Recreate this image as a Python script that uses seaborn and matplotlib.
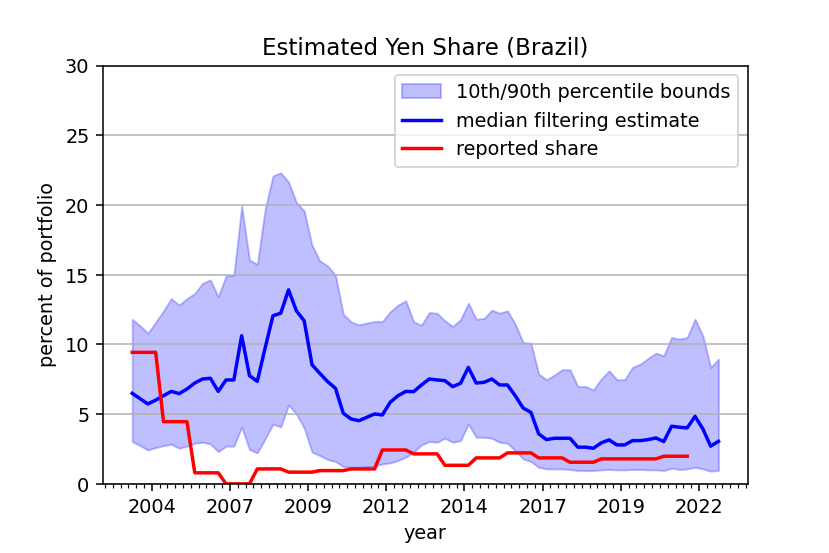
import numpy as np
import pandas as pd
import matplotlib
matplotlib.use("Agg")
import matplotlib.pyplot as plt
from matplotlib.ticker import MultipleLocator
import seaborn as sns

# quarterly estimates, 2004Q1 .. 2022Q4
median_est = [6.49, 6.11, 5.73, 6.00, 6.32, 6.63, 6.47, 6.80, 7.23, 7.52,
              7.57, 6.63, 7.45, 7.45, 10.62, 7.76, 7.35, 9.74, 12.05, 12.24,
              13.91, 12.41, 11.69, 8.54, 7.92, 7.33, 6.85, 5.06, 4.65, 4.53,
              4.77, 5.01, 4.94, 5.85, 6.32, 6.63, 6.61, 7.09, 7.52, 7.45,
              7.40, 6.97, 7.21, 8.35, 7.23, 7.28, 7.52, 7.09, 7.09, 6.32,
              5.44, 5.13, 3.58, 3.17, 3.27, 3.27, 3.27, 2.63, 2.63, 2.55,
              2.94, 3.15, 2.79, 2.79, 3.10, 3.10, 3.17, 3.29, 3.03, 4.13,
              4.06, 4.01, 4.84, 3.94, 2.70, 3.05]
upper_90 = [11.81, 11.34, 10.81, 11.60, 12.40, 13.29, 12.82, 13.29, 13.65, 14.39,
            14.63, 13.41, 14.92, 14.96, 19.93, 16.06, 15.73, 19.69, 22.08, 22.31,
            21.65, 20.17, 19.57, 17.11, 15.99, 15.63, 14.96, 12.17, 11.62, 11.41,
            11.53, 11.65, 11.65, 12.34, 12.82, 13.13, 11.62, 11.38, 12.29, 12.24,
            11.69, 11.29, 11.77, 12.96, 11.81, 11.86, 12.46, 12.24, 12.41, 11.46,
            10.14, 10.10, 7.88, 7.47, 7.80, 8.19, 8.19, 6.99, 6.99, 6.73,
            7.52, 8.11, 7.47, 7.47, 8.35, 8.59, 9.00, 9.38, 9.19, 10.50,
            10.38, 10.50, 11.81, 10.62, 8.35, 8.95]
lower_10 = [3.03, 2.74, 2.43, 2.60, 2.74, 2.84, 2.55, 2.70, 2.91, 2.98,
            2.86, 2.31, 2.70, 2.70, 4.08, 2.46, 2.22, 3.22, 4.27, 4.08,
            5.66, 5.01, 3.99, 2.27, 2.03, 1.74, 1.60, 1.24, 1.19, 1.19,
            1.24, 1.26, 1.43, 1.50, 1.67, 1.91, 2.27, 2.79, 3.03, 2.98,
            3.27, 2.98, 3.10, 4.30, 3.34, 3.34, 3.27, 2.98, 2.91, 2.39,
            1.79, 1.60, 1.19, 1.07, 1.07, 1.07, 1.03, 0.95, 0.95, 0.95,
            1.00, 1.03, 1.00, 1.00, 1.03, 1.03, 1.00, 1.00, 0.95, 1.12,
            1.03, 1.07, 1.19, 1.07, 0.91, 0.95]

# annual reported share, 2004 .. 2021 (held flat over each year's quarters)
reported_years = list(range(2004, 2022))
reported_share = [9.43, 4.46, 0.79, 0.00, 1.07, 0.84, 0.95, 1.07, 2.43,
                  2.15, 1.33, 1.86, 2.22, 1.86, 1.55, 1.79, 1.79, 1.98]

tick_labels = ["2004", "2007", "2009", "2012", "2014", "2017", "2019", "2022"]

quarters = 2004 + 0.25 * np.arange(len(median_est))
est = pd.DataFrame({"t": quarters, "median": median_est,
                    "lo": lower_10, "hi": upper_90})
rep = pd.DataFrame({
    "t": np.repeat(reported_years, 4) + np.tile([0, 0.25, 0.5, 0.75], len(reported_years)),
    "share": np.repeat(reported_share, 4),
})

fig, ax = plt.subplots(figsize=(6, 4), dpi=138.33)
fig.subplots_adjust(left=0.124, right=0.901, top=0.881, bottom=0.125)

ax.fill_between(est["t"], est["lo"], est["hi"], color="blue", alpha=0.25,
                label="10th/90th percentile bounds")
sns.lineplot(data=est, x="t", y="median", color="blue", lw=1.8,
             label="median filtering estimate", ax=ax)
sns.lineplot(data=rep, x="t", y="share", color="red", lw=1.8,
             label="reported share", ax=ax)

ax.set_ylim(0, 30)
ax.yaxis.set_major_locator(MultipleLocator(5))
ax.grid(axis="y")

# major ticks every 10 quarters, minor every quarter
ax.set_xticks(2004.625 + 2.5 * np.arange(len(tick_labels)))
ax.set_xticklabels(tick_labels)
ax.xaxis.set_minor_locator(MultipleLocator(0.25, offset=0.125))

ax.set_title("Estimated Yen Share (Brazil)")
ax.set_xlabel("year")
ax.set_ylabel("percent of portfolio")
ax.legend(loc="upper right")

fig.savefig("out.png")
